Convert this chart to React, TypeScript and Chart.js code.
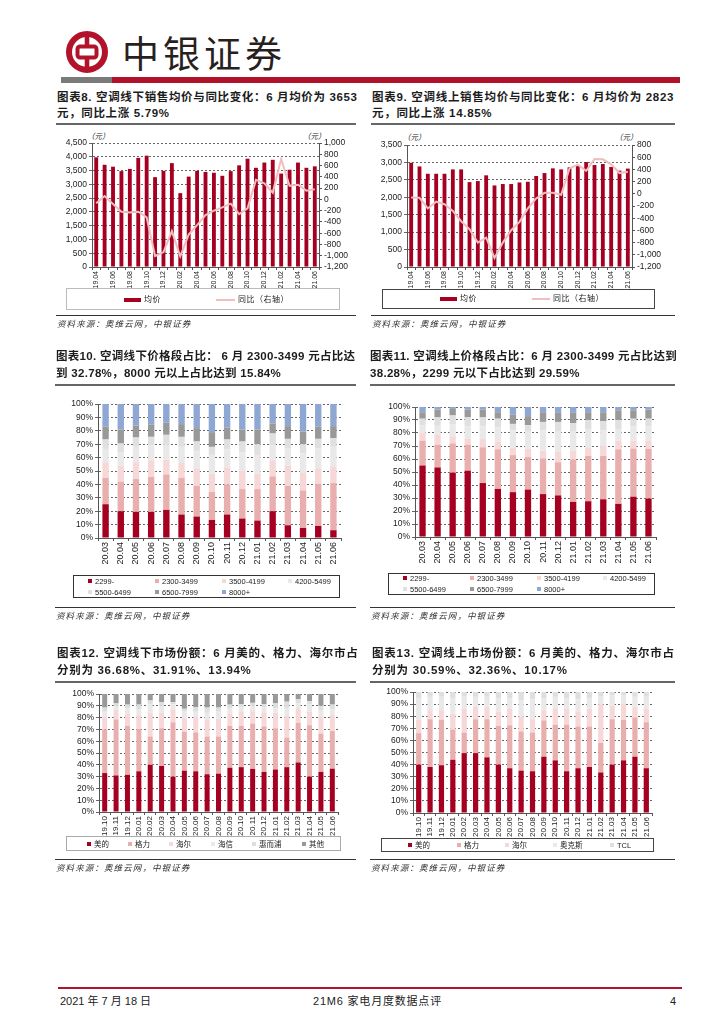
import React, { useEffect, useRef } from "react";
import { Chart, registerables } from "chart.js";

Chart.register(...registerables);

// ---------- data ----------
const priceMonths = ["19.04","19.05","19.06","19.07","19.08","19.09","19.10","19.11","19.12","20.01","20.02","20.03","20.04","20.05","20.06","20.07","20.08","20.09","20.10","20.11","20.12","21.01","21.02","21.03","21.04","21.05","21.06"];
const offlinePrice = [3980,3710,3640,3480,3560,3960,4040,3260,3490,3770,2680,3280,3490,3450,3420,3310,3480,3690,3930,3600,3790,3890,3390,3530,3790,3600,3653];
const offlineYoy = [-70,60,-83,-220,-232,-220,-320,-1005,-935,-565,-1012,-625,-458,-280,-200,-143,-77,-262,-160,345,285,120,715,240,260,155,180];
const onlinePrice = [2990,2885,2675,2675,2675,2800,2800,2435,2465,2630,2340,2380,2380,2425,2445,2610,2695,2830,2800,2860,2895,3010,2925,2955,2870,2765,2823];
const onlineYoy = [-60,-66,-240,-130,-170,-280,-450,-580,-800,-718,-1052,-800,-597,-460,-240,-76,16,16,-16,416,477,378,570,565,482,340,362];

const bandMonths = ["20.03","20.04","20.05","20.06","20.07","20.08","20.09","20.10","20.11","20.12","21.01","21.02","21.03","21.04","21.05","21.06"];
const bandNames = ["2299-","2300-3499","3500-4199","4200-5499","5500-6499","6500-7999","8000+"];
const offBand1 = [25.2,20,19.5,19.5,21,17.5,16,13.5,17.5,14.5,13,20,9.5,7.5,9,5.8];
const offBand2 = [19.8,22,24.5,26,26.5,27.5,23,21,22.5,22,23.5,26,29.5,28,31.5,35.2];
const offBand3 = [11.5,12,12.5,12.5,11,11,13,13.5,12.5,13.5,11.5,12,15,13.5,11.5,12.5];
const offBand4 = [10,10,11.5,11,11.5,12,13,14,13.5,14,14,11,13,14,15,14.5];
const offBand5 = [7,6.5,7,6.5,7,7.5,7,6,7.5,8,8,9,7,7,7,6.5];
const offBand6 = [9.5,10.5,9,9,9,9.5,10,11,9,9,11,7.5,9.5,9.5,9,9];
const offBand7 = [17,19,16,15.5,14,15,18,21,17.5,19,19,14.5,16.5,20.5,17,16.5];
const onBand1 = [55,53.5,49.5,51,41.5,37,34.5,36.5,33,32,27,27.5,29,25.5,31,29.6];
const onBand2 = [19,17.5,22.5,20,27.5,30.5,28.5,25,27.5,25.5,32.5,35,33.5,42,37,38.3];
const onBand3 = [6,7.5,5.5,4.5,6.5,6,5.5,6.5,6,8,7,6.5,7.5,6.5,6,6.1];
const onBand4 = [6,7,9,9.5,9.5,11,13.5,13,15.5,15.5,14.5,14,12,9,11,11];
const onBand5 = [5,6.5,7,7,7,6.5,5,5,6.5,7.5,6.5,7,7,7,6,6];
const onBand6 = [5,6,5,6,6,5,7,7,7.5,7,8,6,7,7.5,6.5,7];
const onBand7 = [4,2,1.5,2,2,4,6,7,4,4.5,4.5,4,4,2.5,2.5,2];

const shareMonths = ["19.10","19.11","19.12","20.01","20.02","20.03","20.04","20.05","20.06","20.07","20.08","20.09","20.10","20.11","20.12","21.01","21.02","21.03","21.04","21.05","21.06"];
const offBrands = ["美的","格力","海尔","海信","惠而浦","其他"];
const offShare1 = [33,31,31.5,34.5,40,39,30,35,34.5,32,32.5,37.5,38,36.5,34,36,38,42,30,34,36.7];
const offShare2 = [37,47.5,41.5,36,24,32,46,33,33,32,31.5,35.5,35,38.5,38.5,35,25,33.5,43.5,32.5,31.9];
const offShare3 = [11,8,10.5,11.5,20,13,11,11.5,13,14.5,15,10.5,12,10.5,12,13,18.5,12.5,11.5,14,13.9];
const offShare4 = [4,3.5,4.5,5,7,6,4,5.5,4.5,5.5,6,4.5,3.5,4.5,4,4,6.5,4,6,5.5,4.5];
const offShare5 = [3.5,2,3,4,3.5,3,2,2.5,4,4.5,3.5,3,3,2.5,3,4,5.5,3.5,3,4,4];
const offShare6 = [11.5,8,9,9,5.5,7,7,12.5,11,11.5,11.5,9,8.5,7.5,8.5,8,6.5,4.5,6,10,9];
const onBrands = ["美的","格力","海尔","奥克斯","TCL"];
const onShare1 = [40,38,39.5,44,49.5,49.5,46,40,37,35,34.5,46.5,43.5,34.5,37,38,33.5,40,43.5,46.5,37];
const onShare2 = [26,39.5,37.5,25,17,28,31.5,32,35.5,32.5,32,30,29.5,38.5,34.5,33.5,24.5,37.5,33.5,32.5,38];
const onShare3 = [11,7.5,8,13,20,10.5,10,11.5,14,12,11,8.5,13.5,13,12.5,14.5,32,11,13.5,8.5,11.5];
const onShare4 = [18,11,11,13,9.5,8,8.5,11.5,8.5,13.5,16.5,10,9.5,9,10,9,6,8.5,6.5,8.5,9.5];
const onShare5 = [5,4,4,5,4,4,4,5,5,7,6,5,4,5,6,5,4,3,3,4,4];

// ---------- styling ----------
const RED = "#A50021";
const PINK = "#E9AFAF";
const LINE = "#F1BDBD";
const bandColors = [RED, PINK, "#F7D8D8", "#E9E9E9", "#E0E0E0", "#999999", "#8FA8D3"];
const offBrandColors = [RED, PINK, "#F7D8D8", "#E9E9E9", "#DEDEDE", "#999999"];
const onBrandColors = [RED, PINK, "#F7D8D8", "#E9E9E9", "#DFDFDF"];
const SANS = '"Liberation Sans", "Noto Sans CJK SC", sans-serif';
const CJK = '"Liberation Sans", "Noto Sans CJK SC", sans-serif';
const GRID = "#666666";
const AXIS = "#555555";
const ML = 45, MR = 45, MT = 12, MB = 40;

type Rect = { l: number; t: number; r: number; b: number };

function fixW(w: number) { return (s: any) => { s.width = w; }; }
function fixH(h: number) { return (s: any) => { s.height = h; }; }

function xAxis(labels: string[], skip: number, size: number) {
  return {
    offset: true,
    afterFit: fixH(MB),
    border: { color: AXIS },
    grid: { drawOnChartArea: false, offset: true, tickLength: 3, color: AXIS },
    ticks: {
      autoSkip: false, minRotation: 90, maxRotation: 90, padding: 1,
      color: "#222", font: { size, family: SANS },
      callback: (_: any, i: number) => (i % skip === 0 ? labels[i] : ""),
    },
  };
}

function ChartCanvas({ rect, config }: { rect: Rect; config: () => any }) {
  const ref = useRef<HTMLCanvasElement>(null);
  useEffect(() => {
    const c = new Chart(ref.current as HTMLCanvasElement, config());
    return () => c.destroy();
  }, []);
  const w = rect.r - rect.l + ML + MR;
  const h = rect.b - rect.t + MT + MB;
  return (
    <canvas ref={ref} width={w} height={h}
      style={{ position: "absolute", left: rect.l - ML, top: rect.t - MT, width: w, height: h }} />
  );
}

function comboConfig(labels: string[], bars: number[], line: number[], lMax: number, lStep: number, rMin: number, rMax: number) {
  return () => ({
    type: "bar",
    data: {
      labels,
      datasets: [
        { type: "line", label: "同比（右轴）", data: line, yAxisID: "y2", borderColor: LINE, borderWidth: 2, pointRadius: 0, tension: 0, order: 0 },
        { type: "bar", label: "均价", data: bars, yAxisID: "y", backgroundColor: RED, barPercentage: 0.46, categoryPercentage: 1, order: 1 },
      ],
    },
    options: {
      animation: false, responsive: false,
      layout: { padding: { top: MT, left: 0, right: 0, bottom: 0 } },
      plugins: { legend: { display: false }, tooltip: { enabled: false } },
      scales: {
        x: xAxis(labels, 2, 7),
        y: {
          position: "left", min: 0, max: lMax, afterFit: fixW(ML),
          border: { color: AXIS, dash: [2, 2] },
          grid: { color: GRID, tickLength: 3 },
          ticks: { autoSkip: false, stepSize: lStep, padding: 2, color: "#222", font: { size: 8.5, family: SANS }, callback: (v: number) => v.toLocaleString("en-US") },
        },
        y2: {
          position: "right", min: rMin, max: rMax, afterFit: fixW(MR),
          border: { color: AXIS },
          grid: { drawOnChartArea: false, tickLength: 3, color: AXIS },
          ticks: { autoSkip: false, stepSize: 200, padding: 2, color: "#222", font: { size: 8.5, family: SANS }, callback: (v: number) => v.toLocaleString("en-US") },
        },
      },
    },
  });
}

function stackConfig(labels: string[], names: string[], series: number[][], colors: string[], barPct: number, xSize: number) {
  return () => ({
    type: "bar",
    data: {
      labels,
      datasets: series.map((d, i) => ({ label: names[i], data: d, backgroundColor: colors[i], barPercentage: barPct, categoryPercentage: 1 })),
    },
    options: {
      animation: false, responsive: false,
      layout: { padding: { top: MT, left: 0, right: MR, bottom: 0 } },
      plugins: { legend: { display: false }, tooltip: { enabled: false } },
      scales: {
        x: { ...xAxis(labels, 1, xSize), stacked: true },
        y: {
          stacked: true, min: 0, max: 100, afterFit: fixW(ML),
          border: { color: AXIS, dash: [2, 2] },
          grid: { color: GRID, tickLength: 3 },
          ticks: { autoSkip: false, stepSize: 10, padding: 2, color: "#222", font: { size: 8.5, family: SANS }, callback: (v: number) => v + "%" },
        },
      },
    },
  });
}

// ---------- page pieces ----------
function T({ x, y, size = 9, children, style }: any) {
  return (
    <div style={{ position: "absolute", left: x, top: y, transform: "translateY(-50%)", fontSize: size, lineHeight: 1.2, whiteSpace: "nowrap", fontFamily: CJK, color: "#222", ...style }}>
      {children}
    </div>
  );
}

function Title({ x, y1, y2, a, b, spacing = 0.7 }: any) {
  const st = { fontWeight: 700, letterSpacing: spacing, color: "#1c1c1c" };
  return (
    <>
      <T x={x} y={y1} size={11.5} style={st}>{a}</T>
      <T x={x} y={y2} size={11.5} style={st}>{b}</T>
    </>
  );
}

function HLine({ x1, x2, y, h = 1.5, color = "#666" }: any) {
  return <div style={{ position: "absolute", left: x1, top: y, width: x2 - x1, height: h, background: color }} />;
}

function Source({ x, lineY, x2 }: any) {
  return (
    <>
      <HLine x1={x} x2={x2} y={lineY} h={1} color="#333" />
      <T x={x + 1} y={lineY + 9} size={8.5} style={{ fontStyle: "italic", letterSpacing: 1.1, color: "#333" }}>资料来源：奥维云网，中银证券</T>
    </>
  );
}

function Box({ x1, y1, x2, y2, color = "#777" }: any) {
  return <div style={{ position: "absolute", left: x1, top: y1, width: x2 - x1, height: y2 - y1, border: `1px solid ${color}`, boxSizing: "border-box" }} />;
}

function Key({ x, y, color, text, sw = 4, gap = 3 }: any) {
  return (
    <>
      <div style={{ position: "absolute", left: x, top: y - sw / 2, width: sw, height: sw, background: color }} />
      <T x={x + sw + gap} y={y} size={7.5} style={{ color: "#222" }}>{text}</T>
    </>
  );
}

function BarKey({ x, w, y, h, color, text }: any) {
  return (
    <>
      <div style={{ position: "absolute", left: x, top: y - h / 2, width: w, height: h, background: color }} />
      <T x={x + w + 3} y={y} size={8} style={{ letterSpacing: 0.5 }}>{text}</T>
    </>
  );
}

function Logo() {
  return (
    <svg style={{ position: "absolute", left: 65, top: 30 }} width="44" height="44" viewBox="0 0 44 44">
      <circle cx="22" cy="22" r="18" fill="none" stroke="#B2122A" strokeWidth="6" />
      <rect x="19.7" y="5" width="4.6" height="11" fill="#B2122A" />
      <rect x="19.7" y="28" width="4.6" height="11" fill="#B2122A" />
      <rect x="12.5" y="16.5" width="19" height="11" rx="2.5" fill="#fff" stroke="#B2122A" strokeWidth="4" />
    </svg>
  );
}

export default function App() {
  useEffect(() => { document.body.style.margin = "0"; }, []);

  const r8 = { l: 92, t: 143, r: 319, b: 267 };
  const r9 = { l: 407, t: 145, r: 632, b: 267 };
  const r10 = { l: 98, t: 404, r: 341, b: 538 };
  const r11 = { l: 415, t: 407, r: 656, b: 537 };
  const r12 = { l: 99, t: 694, r: 338, b: 812 };
  const r13 = { l: 413, t: 692, r: 652, b: 813 };

  const c10 = [offBand1, offBand2, offBand3, offBand4, offBand5, offBand6, offBand7];
  const c11 = [onBand1, onBand2, onBand3, onBand4, onBand5, onBand6, onBand7];
  const c12 = [offShare1, offShare2, offShare3, offShare4, offShare5, offShare6];
  const c13 = [onShare1, onShare2, onShare3, onShare4, onShare5];

  const bandCols = (xs: number[], y1: number, y2: number) =>
    bandNames.map((n, i) => <Key key={n} x={xs[i % 4]} y={i < 4 ? y1 : y2} color={bandColors[i]} text={n} />);

  return (
    <div style={{ position: "absolute", left: 0, top: 0, width: 724, height: 1024, background: "#fff", overflow: "hidden" }}>
      {/* header */}
      <Logo />
      <div style={{ position: "absolute", left: 122, top: 29, fontSize: 37, lineHeight: "46px", letterSpacing: 4, fontWeight: 400, color: "#2a1f1f", fontFamily: '"Noto Sans CJK SC", sans-serif', whiteSpace: "nowrap" }}>中银证券</div>
      <HLine x1={61} x2={112} y={77} h={6} color="#7a7a7a" />
      <HLine x1={112} x2={680} y={77} h={6} color="#B2122A" />

      {/* chart 8 */}
      <Title x={57} y1={98} y2={114} spacing={0.65} a="图表8. 空调线下销售均价与同比变化：6 月均价为 3653" b="元，同比上涨 5.79%" />
      <HLine x1={56} x2={356} y={123} />
      <T x={87} y={136} size={7.5} style={{ fontStyle: "italic" }}>（元）</T>
      <T x={303} y={136} size={7.5} style={{ fontStyle: "italic" }}>（元）</T>
      <ChartCanvas rect={r8} config={comboConfig(priceMonths, offlinePrice, offlineYoy, 4500, 500, -1200, 1000)} />
      <Box x1={66} y1={288} x2={340} y2={310} color="#bbb" />
      <BarKey x={124} w={17} y={300} h={3.5} color={RED} text="均价" />
      <BarKey x={216} w={19} y={300} h={1.5} color={LINE} text="同比（右轴）" />
      <Source x={56} x2={356} lineY={315} />

      {/* chart 9 */}
      <Title x={372} y1={98} y2={114} a="图表9. 空调线上销售均价与同比变化：6 月均价为 2823" b="元，同比上涨 14.85%" />
      <HLine x1={371} x2={675} y={123} />
      <T x={403} y={137} size={7.5} style={{ fontStyle: "italic" }}>（元）</T>
      <T x={615} y={137} size={7.5} style={{ fontStyle: "italic" }}>（元）</T>
      <ChartCanvas rect={r9} config={comboConfig(priceMonths, onlinePrice, onlineYoy, 3500, 500, -1200, 800)} />
      <Box x1={382} y1={289} x2={655} y2={309} color="#444" />
      <BarKey x={440} w={17} y={299} h={3.5} color={RED} text="均价" />
      <BarKey x={532} w={18} y={299} h={1.5} color={LINE} text="同比（右轴）" />
      <Source x={371} x2={675} lineY={315} />

      {/* chart 10 */}
      <Title x={56} y1={357} y2={374} spacing={0.3} a="图表10. 空调线下价格段占比： 6 月 2300-3499 元占比达" b="到 32.78%，8000 元以上占比达到 15.84%" />
      <HLine x1={55} x2={356} y={384} />
      <ChartCanvas rect={r10} config={stackConfig(bandMonths, bandNames, c10, bandColors, 0.42, 9)} />
      <Box x1={73} y1={575} x2={340} y2={598} color="#333" />
      {bandCols([88, 155, 222, 288], 581, 592)}
      <Source x={55} x2={356} lineY={607} />

      {/* chart 11 */}
      <Title x={370} y1={357} y2={374} spacing={0.3} a="图表11. 空调线上价格段占比：6 月 2300-3499 元占比达到" b="38.28%，2299 元以下占比达到 29.59%" />
      <HLine x1={370} x2={675} y={384} />
      <ChartCanvas rect={r11} config={stackConfig(bandMonths, bandNames, c11, bandColors, 0.42, 9)} />
      <Box x1={388} y1={573} x2={655} y2={595} color="#333" />
      {bandCols([403, 470, 537, 603], 578, 589)}
      <Source x={370} x2={675} lineY={607} />

      {/* chart 12 */}
      <Title x={57} y1={654} y2={671} a="图表12. 空调线下市场份额：6 月美的、格力、海尔市占" b="分别为 36.68%、31.91%、13.94%" />
      <HLine x1={55} x2={356} y={681} />
      <ChartCanvas rect={r12} config={stackConfig(shareMonths, offBrands, c12, offBrandColors, 0.44, 8)} />
      <Box x1={66} y1={836} x2={341} y2={851} color="#aaa" />
      {offBrands.map((n, i) => <Key key={n} x={[87, 128, 169, 211, 252, 302][i]} y={843.5} color={offBrandColors[i]} text={n} />)}
      <Source x={55} x2={356} lineY={859} />

      {/* chart 13 */}
      <Title x={372} y1={654} y2={671} spacing={0.75} a="图表13. 空调线上市场份额：6 月美的、格力、海尔市占" b="分别为 30.59%、32.36%、10.17%" />
      <HLine x1={370} x2={675} y={681} />
      <ChartCanvas rect={r13} config={stackConfig(shareMonths, onBrands, c13, onBrandColors, 0.46, 8)} />
      <Box x1={381} y1={838} x2={654} y2={852} color="#444" />
      {onBrands.map((n, i) => <Key key={n} x={[408, 457, 505, 553, 610][i]} y={845} color={onBrandColors[i]} text={n} />)}
      <Source x={370} x2={675} lineY={859} />

      {/* footer */}
      <HLine x1={58} x2={682} y={987} h={1.5} color="#B2122A" />
      <T x={60} y={1002} size={11}>2021 年 7 月 18 日</T>
      <T x={313} y={1002} size={11} style={{ letterSpacing: 0.8 }}>21M6 家电月度数据点评</T>
      <T x={670} y={1002} size={11}>4</T>
    </div>
  );
}
